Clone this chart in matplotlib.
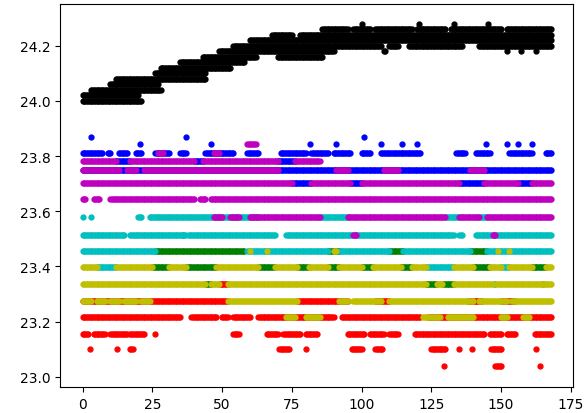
import numpy as np
import matplotlib
matplotlib.use("Agg")
import matplotlib.pyplot as plt

# sample hours over one week
hours = np.arange(0, 168.5, 0.5)

# each entry: (temperature level, first hour, last hour)
blue_runs = [
    (23.868, 3, 3), (23.868, 37, 37), (23.868, 101, 101),
    (23.844, 20.5, 20.5), (23.844, 46, 46), (23.844, 81.5, 81.5), (23.844, 91, 91),
    (23.844, 107, 107), (23.844, 114.5, 114.5), (23.844, 120, 120), (23.844, 144.5, 144.5),
    (23.844, 152, 152), (23.844, 156, 156), (23.844, 161, 161),
    (23.812, 0, 7), (23.812, 9, 10), (23.812, 13, 16), (23.812, 19, 21), (23.812, 26, 31),
    (23.812, 35, 37), (23.812, 44, 54), (23.812, 59, 63), (23.812, 71, 80), (23.812, 82, 88),
    (23.812, 90, 96), (23.812, 100, 103), (23.812, 107, 121), (23.812, 134, 137),
    (23.812, 141, 146), (23.812, 153, 161), (23.812, 166, 168),
    (23.783, 12, 17), (23.783, 40, 43), (23.783, 70, 76),
    (23.748, 0, 168),
    (23.703, 75, 82), (23.703, 96, 100), (23.703, 135, 144), (23.703, 156, 161),
]
green_runs = [
    (23.515, 36, 36),
    (23.457, 26, 58), (23.457, 88, 92), (23.457, 110, 115), (23.457, 139, 145),
    (23.398, 25, 31), (23.398, 37, 48), (23.398, 63, 69), (23.398, 77, 81), (23.398, 88, 92),
    (23.398, 100, 104), (23.398, 114, 118), (23.398, 140, 146), (23.398, 161, 166),
    (23.336, 44, 46), (23.336, 123, 127), (23.336, 129, 133), (23.336, 165, 165),
]
red_runs = [
    (23.336, 49, 52),
    (23.274, 0, 52), (23.274, 77, 95), (23.274, 105, 110), (23.274, 138, 143), (23.274, 150, 155),
    (23.216, 0, 35), (23.216, 39, 48), (23.216, 50, 52), (23.216, 54, 60), (23.216, 63, 90),
    (23.216, 93, 121), (23.216, 124, 168),
    (23.157, 0, 2), (23.157, 4, 8), (23.157, 10, 16), (23.157, 17, 22), (23.157, 26, 26),
    (23.157, 54, 56), (23.157, 66, 70), (23.157, 72, 78), (23.157, 80, 84), (23.157, 95, 101),
    (23.157, 103, 108), (23.157, 110, 113), (23.157, 119, 144), (23.157, 146, 150),
    (23.157, 152, 155), (23.157, 162, 168),
    (23.100, 2.5, 2.5), (23.100, 12.5, 12.5), (23.100, 17, 18), (23.100, 70.5, 74),
    (23.100, 80, 80), (23.100, 96.5, 100), (23.100, 105, 107.5), (23.100, 125, 130),
    (23.100, 135, 135), (23.100, 139.5, 139.5), (23.100, 146.5, 150), (23.100, 162.5, 162.5),
    (23.039, 129.5, 129.5), (23.039, 148, 150), (23.039, 164, 164),
]
cyan_runs = [
    (23.580, 0, 0), (23.580, 3, 3), (23.580, 20, 21), (23.580, 24, 63), (23.580, 85, 95),
    (23.580, 130, 135), (23.580, 142, 145),
    (23.515, 0, 15), (23.515, 17, 37), (23.515, 38, 69), (23.515, 73, 133), (23.515, 135, 136),
    (23.515, 141, 168),
    (23.457, 0, 26), (23.457, 59, 88), (23.457, 92, 110), (23.457, 115, 139), (23.457, 145, 168),
    (23.398, 5, 12), (23.398, 123, 133), (23.398, 150, 153),
    (23.336, 147.5, 148),
]
magenta_runs = [
    (23.844, 59, 62),
    (23.812, 27, 29), (23.812, 47, 49),
    (23.783, 0, 12), (23.783, 17, 40), (23.783, 43, 70), (23.783, 76, 85),
    (23.748, 0, 13), (23.748, 16, 19), (23.748, 22, 70), (23.748, 91, 95), (23.748, 108, 113),
    (23.748, 139, 144),
    (23.703, 0, 75), (23.703, 82, 96), (23.703, 100, 135), (23.703, 144, 156), (23.703, 161, 168),
    (23.645, 0, 1), (23.645, 4, 6), (23.645, 10, 40), (23.645, 42, 44), (23.645, 46, 168),
    (23.580, 47, 50), (23.580, 53, 56), (23.580, 60, 85), (23.580, 95, 130), (23.580, 135, 142),
    (23.580, 145, 168),
    (23.515, 97, 98), (23.515, 147, 148),
]
yellow_runs = [
    (23.457, 60, 60), (23.457, 66, 66), (23.457, 90, 91), (23.457, 149, 149), (23.457, 153, 153),
    (23.398, 0, 5), (23.398, 12, 25), (23.398, 31, 37), (23.398, 48, 63), (23.398, 69, 77),
    (23.398, 81, 88), (23.398, 92, 100), (23.398, 104, 114), (23.398, 118, 123),
    (23.398, 133, 140), (23.398, 146, 150), (23.398, 153, 161), (23.398, 166, 168),
    (23.336, 0, 44), (23.336, 46, 49), (23.336, 52, 123), (23.336, 127, 129), (23.336, 133, 147),
    (23.336, 148.5, 165), (23.336, 165.5, 168),
    (23.274, 0, 3), (23.274, 5, 8), (23.274, 10, 13), (23.274, 15, 19), (23.274, 21, 24),
    (23.274, 52, 77), (23.274, 92, 95), (23.274, 97, 107), (23.274, 110, 140),
    (23.274, 142, 152), (23.274, 154, 168),
    (23.216, 73, 76), (23.216, 80, 85), (23.216, 122, 128), (23.216, 131, 140),
    (23.216, 150, 152), (23.216, 158, 160),
]
black_runs = [
    (24.00, 0, 21), (24.02, 0, 20), (24.04, 3, 28), (24.06, 10, 27), (24.08, 12, 44),
    (24.10, 26, 44), (24.12, 28, 53), (24.14, 35, 58), (24.16, 43, 62), (24.16, 70, 86),
    (24.18, 49, 90), (24.18, 108, 108.5), (24.18, 152, 152), (24.18, 157, 157), (24.18, 162.5, 162.5),
    (24.20, 54, 107), (24.20, 110, 113), (24.20, 117, 136), (24.20, 142, 168),
    (24.22, 60, 168),
    (24.24, 68, 75), (24.24, 78, 168),
    (24.26, 86, 95), (24.26, 97, 103), (24.26, 105, 118), (24.26, 120, 130), (24.26, 132, 150),
    (24.26, 152, 168),
    (24.28, 100, 100), (24.28, 120.5, 120.5), (24.28, 133, 133), (24.28, 145.5, 145.5),
]


def run_points(runs):
    xs = []
    ys = []
    for level, start, end in runs:
        sel = hours[(hours >= start) & (hours <= end)]
        xs.extend(sel)
        ys.extend([level] * len(sel))
    return xs, ys


fig = plt.figure(figsize=(5.84, 4.14), dpi=100)
ax = fig.add_axes([0.1027, 0.062, 0.878, 0.926])

# same order as the colour letters b g r c m y k
for runs, col in [(blue_runs, 'b'), (green_runs, 'g'), (red_runs, 'r'), (cyan_runs, 'c'),
                  (magenta_runs, 'm'), (yellow_runs, 'y'), (black_runs, 'k')]:
    x, y = run_points(runs)
    ax.plot(x, y, '.', color=col, markersize=7)

ax.set_xlim(-8.1, 175.7)
ax.set_ylim(22.962, 24.351)

fig.savefig("out.png", dpi=100)
